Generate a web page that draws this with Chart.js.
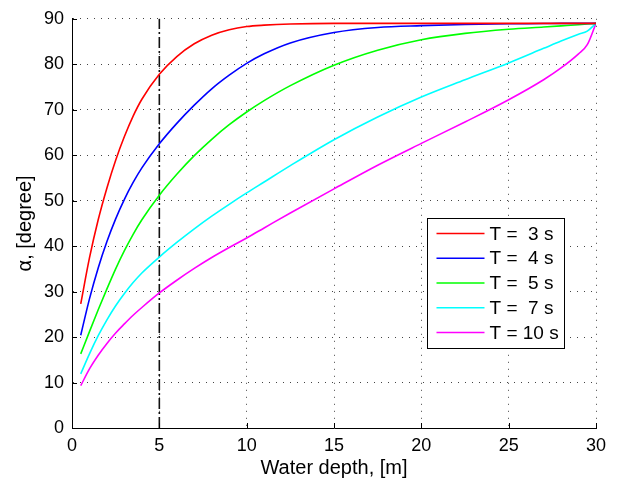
<!DOCTYPE html>
<html>
<head>
<meta charset="utf-8">
<title>Wave angle vs water depth</title>
<script src="https://cdn.jsdelivr.net/npm/chart.js@4"></script>
<style>
  html, body { margin: 0; padding: 0; background: #fff; }
  #wrap { width: 619px; height: 482px; }
</style>
</head>
<body>
<div id="wrap"><canvas id="chart" width="619" height="482"></canvas></div>
<script>
// water depth [m] where the curves were read
const depth = [0.5, 1, 1.5, 2, 2.5, 3, 3.5, 4, 5, 6, 7, 8, 9, 10, 11, 12.5, 15, 17.5, 20, 22.5, 25, 27, 28, 29, 29.5, 30];

// alpha [degree] per wave period
const alphaT3  = [27.3, 37.4, 45.8, 52.8, 58.9, 64.1, 68.6, 72.3, 77.8, 81.7, 84.5, 86.4, 87.6, 88.3, 88.6, 88.85, 89, 89, 89, 89, 89, 89, 89, 89, 89, 89];
const alphaT4  = [20.4, 28.4, 35.2, 41.0, 46.0, 50.3, 54.0, 57.2, 62.5, 67.0, 71.0, 74.6, 77.6, 80.2, 82.3, 84.7, 87.0, 88.1, 88.5, 88.75, 88.9, 88.95, 89, 89, 89, 89];
const alphaT5  = [16.3, 21.2, 26.0, 30.6, 35.0, 39.0, 42.6, 45.8, 51.2, 55.8, 59.9, 63.5, 66.7, 69.5, 72.0, 75.3, 79.8, 83.1, 85.4, 86.8, 87.7, 88.2, 88.45, 88.7, 88.85, 89];
const alphaT7  = [11.9, 16.3, 20.3, 23.8, 26.9, 29.6, 32.0, 34.1, 37.6, 40.8, 43.8, 46.6, 49.2, 51.7, 54.1, 57.7, 63.4, 68.4, 72.8, 76.6, 80.3, 83.5, 85.1, 86.6, 87.3, 89];
const alphaT10 = [9.3, 13.0, 16.0, 18.6, 20.9, 22.9, 24.8, 26.5, 29.7, 32.5, 35.1, 37.5, 39.7, 41.8, 44.0, 47.3, 52.6, 57.8, 62.6, 67.3, 72.2, 76.6, 79.2, 82.3, 84.3, 89];

const seriesLabels = ['T =  3 s', 'T =  4 s', 'T =  5 s', 'T =  7 s', 'T = 10 s'];
const seriesColors = ['#ff0000', '#0000ff', '#00ff00', '#00ffff', '#ff00ff'];
const seriesValues = [alphaT3, alphaT4, alphaT5, alphaT7, alphaT10];

// dash-dot marker line
const markerDepth = 5;
const xRange = [0, 30];
const yRange = [0, 90];

const FONT = "'Liberation Sans', Arial, Helvetica, sans-serif";
Chart.defaults.font.family = FONT;
Chart.defaults.color = '#000';

const datasets = seriesValues.map((vals, i) => ({
  label: seriesLabels[i],
  data: depth.map((d, k) => ({ x: d, y: vals[k] })),
  borderColor: seriesColors[i],
  borderWidth: 1.6,
  pointRadius: 0,
  cubicInterpolationMode: 'monotone',
  fill: false
}));

datasets.push({
  label: 'marker',
  data: [{ x: markerDepth, y: yRange[0] }, { x: markerDepth, y: yRange[1] }],
  borderColor: '#111',
  borderWidth: 1.6,
  borderDash: [11, 3, 2, 3],
  pointRadius: 0,
  fill: false
});

// MATLAB style ticks pointing into the axes
const inwardTicks = {
  id: 'inwardTicks',
  afterDatasetsDraw(chart) {
    const { ctx, chartArea, scales } = chart;
    ctx.save();
    ctx.strokeStyle = '#000';
    ctx.lineWidth = 1;
    ctx.beginPath();
    scales.x.ticks.forEach(t => {
      const px = Math.round(scales.x.getPixelForValue(t.value)) + 0.5;
      ctx.moveTo(px, chartArea.bottom);
      ctx.lineTo(px, chartArea.bottom - 5);
    });
    scales.y.ticks.forEach(t => {
      const py = Math.round(scales.y.getPixelForValue(t.value)) + 0.5;
      ctx.moveTo(chartArea.left, py);
      ctx.lineTo(chartArea.left + 5, py);
    });
    ctx.stroke();
    ctx.restore();
  }
};

// boxed legend inside the axes
const boxLegend = {
  id: 'boxLegend',
  afterDraw(chart) {
    const { ctx, chartArea } = chart;
    const x0 = Math.round(chartArea.right - 169) + 0.5;
    const y0 = Math.round(chartArea.top + 199) + 0.5;
    const w = 137, h = 130;
    ctx.save();
    ctx.fillStyle = '#fff';
    ctx.fillRect(x0, y0, w, h);
    ctx.strokeStyle = '#000';
    ctx.lineWidth = 1;
    ctx.strokeRect(x0, y0, w, h);
    ctx.font = '19px ' + FONT;
    ctx.textBaseline = 'middle';
    ctx.textAlign = 'left';
    for (let i = 0; i < seriesLabels.length; i++) {
      const cy = y0 + 15 + i * 24.75;
      ctx.strokeStyle = seriesColors[i];
      ctx.lineWidth = 1.6;
      ctx.beginPath();
      ctx.moveTo(x0 + 9, cy);
      ctx.lineTo(x0 + 57, cy);
      ctx.stroke();
      ctx.fillStyle = '#000';
      ctx.fillText(seriesLabels[i], x0 + 62, cy + 1);
    }
    ctx.restore();
  }
};

new Chart(document.getElementById('chart'), {
  type: 'line',
  data: { datasets },
  options: {
    responsive: false,
    devicePixelRatio: 1,
    animation: false,
    layout: { padding: { top: 17, right: 23, left: 0, bottom: 0 } },
    plugins: { legend: { display: false }, tooltip: { enabled: false } },
    scales: {
      x: {
        type: 'linear',
        min: xRange[0],
        max: xRange[1],
        afterFit: s => { s.height = 54; },
        ticks: { stepSize: 5, padding: 7, font: { size: 18 }, color: '#000', maxRotation: 0 },
        grid: { color: '#444', lineWidth: 1, drawTicks: false },
        border: { display: true, color: '#000', width: 1, dash: [1, 6] },
        title: { display: true, text: 'Water depth, [m]', font: { size: 20 }, color: '#000', padding: { top: 0, bottom: 2 } }
      },
      y: {
        type: 'linear',
        min: yRange[0],
        max: yRange[1],
        afterFit: s => { s.width = 72; },
        ticks: { stepSize: 10, padding: 8, font: { size: 18 }, color: '#000' },
        grid: { color: '#444', lineWidth: 1, drawTicks: false },
        border: { display: true, color: '#000', width: 1, dash: [1, 6] },
        title: { display: true, text: 'α, [degree]', font: { size: 20 }, color: '#000', padding: { top: 13, bottom: 0 } }
      }
    }
  },
  plugins: [inwardTicks, boxLegend]
});
</script>
</body>
</html>
